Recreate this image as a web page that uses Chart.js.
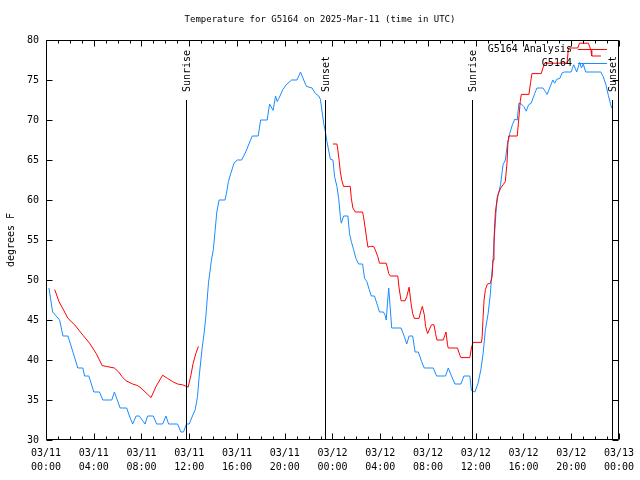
<!DOCTYPE html>
<html><head><meta charset="utf-8">
<script src="https://cdn.jsdelivr.net/npm/chart.js@4/dist/chart.umd.min.js"></script>
<style>html,body{margin:0;padding:0;background:#fff}#wrap{width:640px;height:480px}</style>
</head><body><div id="wrap"><canvas id="c" width="640" height="480"></canvas></div>
<script>
const titleText = 'Temperature for G5164 on 2025-Mar-11 (time in UTC)';
const yAxisLabel = 'degrees F';
const seriesNames = ['G5164 Analysis', 'G5164'];
const monthLabel = '03';
const firstDay = 11;
const xTickHours = [0, 4, 8, 12, 16, 20, 24, 28, 32, 36, 40, 44, 48];
const yTickValues = [30, 35, 40, 45, 50, 55, 60, 65, 70, 75, 80];

const obsHours = [0.25,0.45,0.56,1.14,1.42,1.84,2.67,3.09,3.23,3.59,4.01,4.48,4.76,5.51,5.73,6.21,6.76,6.99,7.26,7.55,
7.82,8.30,8.51,8.99,9.27,9.77,10.05,10.27,11.02,11.30,11.52,11.77,12.0,12.27,12.50,12.69,12.83,13.06,13.25,13.39,
13.61,13.86,14.02,14.17,14.31,14.5,15.0,15.14,15.28,15.48,15.75,16.03,16.39,16.73,17.0,17.28,17.78,17.98,18.53,18.73,
19.03,19.23,19.37,19.51,19.84,20.12,20.57,21.03,21.32,21.59,21.82,22.29,22.57,22.85,22.99,23.26,23.41,23.54,23.82,24.04,
24.18,24.37,24.52,24.66,24.74,24.93,25.29,25.43,25.58,25.77,25.96,26.19,26.52,26.69,26.88,27.08,27.25,27.52,27.71,27.94,
28.27,28.41,28.50,28.61,28.71,28.83,28.96,29.75,30.03,30.22,30.42,30.72,30.92,31.19,31.47,31.69,32.45,32.72,33.47,33.70,
33.97,34.26,34.76,35.01,35.51,35.64,35.93,36.20,36.43,36.62,36.81,37.04,37.23,37.31,37.45,37.60,37.73,37.87,38.08,38.29,
38.48,38.65,38.85,39.07,39.27,39.48,39.62,39.82,40.02,40.23,40.43,40.65,40.94,41.13,41.63,41.82,41.99,42.19,42.46,42.61,
42.80,43.05,43.24,43.44,43.99,44.21,44.46,44.71,44.86,45.01,45.21,46.49,46.69,46.91,47.11,47.28,47.39];
const obsTemps = [49,47,46,45,43,43,39,39,38,38,36,36,35,35,36,34,34,33,32,33,
33,32,33,33,32,32,33,32,32,31,31,32,32,33,33.8,35.4,37.9,41.2,43.4,45.4,
49.6,52.5,53.8,56.2,58.5,60,60,61,62.3,63.3,64.6,65,65,66,67,68,68,70,70,72,
71.2,73,72.3,72.7,73.8,74.4,75,75,76,75,74.2,74,73.3,73,72.6,69.6,68.5,67.3,65.1,65,
62.9,61.7,60.2,57.9,57.1,58,58,55.8,54.8,53.8,52.7,52,52,50.2,49.8,48.8,48,48,47.1,46,
46,45.6,45,47.1,49,46.7,44,44,42.9,42,43,43,41,41,39.8,39,39,38,38,39,
38,37,37,38,38,36.2,36,37.1,38.8,40.8,43.8,45.8,48.3,50,52.5,56.2,59.2,60.6,61.9,64.4,
65,66.9,68.3,69.4,70.1,70,72.1,72,71.7,71.1,71.9,72.1,73.3,74,74,73.6,73.2,74,75,74.6,
75.1,75.2,75.9,76,76,76.9,76,77.2,76.5,77,76,76,75.4,74.4,73.1,72.1,71.5];

const anaHours = [0.73,1.09,1.56,1.84,2.40,3.09,3.65,4.21,4.71,5.04,5.73,6.09,6.38,6.71,7.26,7.68,7.96,8.38,8.80,9.22,
9.77,10.18,10.60,11.02,11.44,11.77,11.91,12.14,12.33,12.55,12.77,18,24.04,24.37,24.43,24.57,24.66,24.79,24.93,25.49,
25.58,25.71,25.91,26.52,26.60,26.74,26.88,26.97,27.16,27.44,27.58,27.80,27.94,28.50,28.61,28.71,28.85,29.47,29.58,29.75,
30.08,30.22,30.42,30.58,30.72,30.86,31.25,31.42,31.53,31.70,31.80,31.97,32.17,32.30,32.50,32.64,32.75,33.28,33.42,33.51,
33.64,33.70,34.47,34.67,34.76,35.51,35.64,35.78,36.48,36.54,36.62,36.70,36.81,36.98,37.23,37.37,37.45,37.53,37.64,37.81,
37.95,38.09,38.29,38.48,38.62,38.71,38.76,39.48,39.60,39.73,39.82,40.46,40.60,40.71,41.49,41.63,41.77,43.65,43.77,44.55,
44.69,45.44,45.66,45.72,46.49];
const anaTemps = [48.8,47.3,46.0,45.2,44.4,43.1,42.1,40.8,39.3,39.2,39.0,38.5,37.9,37.4,37.0,36.8,36.5,35.9,35.3,36.7,
38.1,37.7,37.3,37.0,36.9,36.7,36.6,38.1,39.6,40.8,41.7,null,67,67,66.5,64.8,63.5,62.4,61.7,61.7,
60.2,59,58.5,58.5,57.9,56.5,55,54.1,54.2,54.2,53.8,52.9,52.1,52.1,51.5,50.8,50.5,50.5,49,47.4,
47.4,47.9,49.1,47.1,45.8,45.2,45.2,46.2,46.7,45.6,44.2,43.3,44,44.4,44.4,43.3,42.5,42.5,43.1,43.5,
41.9,41.5,41.5,40.6,40.3,40.3,41.5,42.2,42.2,42.9,45.4,47.5,48.8,49.5,49.6,50.4,52.5,55,58.3,60.4,
61,61.5,61.9,62.3,64.6,67.5,68,68,70,72.3,73.2,73.2,74.7,75.8,75.8,76.5,77.1,77.1,79,79,
79.6,79.6,78.7,78,78];

const eventHours = [11.77, 23.37, 35.73, 47.4];
const eventLabels = ['Sunrise', 'Sunset', 'Sunrise', 'Sunset'];
const eventTopValue = 72.5;

const FONT = '"DejaVu Sans Mono", "Liberation Mono", monospace';
const RED = '#ff0000';
const BLUE = '#1a8cff';

function pts(xs, ys) { return xs.map((x, i) => ({ x: x, y: ys[i] })); }
function pad2(n) { return (n < 10 ? '0' : '') + n; }

const decor = {
  id: 'decor',
  afterDatasetsDraw(chart) {
    const ctx = chart.ctx, a = chart.chartArea, xs = chart.scales.x, ys = chart.scales.y;
    const L = Math.round(a.left) + 0.5, R = Math.round(a.right) - 0.5;
    const T = Math.round(a.top) + 0.5, B = Math.round(a.bottom) - 0.5;
    ctx.save();
    ctx.strokeStyle = '#000'; ctx.lineWidth = 1;
    // sunrise / sunset lines
    eventHours.forEach((h, i) => {
      const px = Math.round(xs.getPixelForValue(h)) + 0.5;
      const top = Math.round(ys.getPixelForValue(eventTopValue));
      ctx.beginPath(); ctx.moveTo(px, top); ctx.lineTo(px, B); ctx.stroke();
      ctx.save();
      ctx.translate(px + 1, top - 8);
      ctx.rotate(-Math.PI / 2);
      ctx.fillStyle = '#000'; ctx.font = '10px ' + FONT;
      ctx.textAlign = 'left'; ctx.textBaseline = 'middle';
      ctx.fillText(eventLabels[i], 0, 0);
      ctx.restore();
    });
    // frame
    ctx.beginPath(); ctx.rect(L, T, R - L, B - T); ctx.stroke();
    // x ticks (inward, top and bottom)
    ctx.beginPath();
    for (let h = 0; h <= 48; h++) {
      const px = Math.round(xs.getPixelForValue(h)) + 0.5;
      const len = (h % 4 === 0) ? 6 : 3;
      ctx.moveTo(px, B); ctx.lineTo(px, B - len);
      ctx.moveTo(px, T); ctx.lineTo(px, T + len);
    }
    yTickValues.forEach(v => {
      const py = Math.round(ys.getPixelForValue(v)) + 0.5;
      ctx.moveTo(L, py); ctx.lineTo(L + 6, py);
      ctx.moveTo(R, py); ctx.lineTo(R - 6, py);
    });
    ctx.stroke();
    // legend
    ctx.font = '10px ' + FONT; ctx.textAlign = 'right'; ctx.textBaseline = 'middle';
    ctx.fillStyle = '#000';
    const lx0 = a.right - 41, lx1 = a.right - 12;
    [[seriesNames[0], RED, a.top + 9], [seriesNames[1], BLUE, a.top + 23]].forEach(([t, c, y]) => {
      ctx.fillText(t, a.right - 47, y);
      ctx.strokeStyle = c; ctx.beginPath();
      ctx.moveTo(lx0, Math.round(y) + 0.5); ctx.lineTo(lx1, Math.round(y) + 0.5); ctx.stroke();
    });
    // title
    ctx.fillStyle = '#000'; ctx.textAlign = 'center';
    ctx.font = '9px ' + FONT;
    ctx.fillText(titleText, 320, 20);
    // y axis label
    ctx.save();
    ctx.translate(11, (a.top + a.bottom) / 2);
    ctx.rotate(-Math.PI / 2);
    ctx.font = '10px ' + FONT; ctx.textAlign = 'center'; ctx.textBaseline = 'middle';
    ctx.fillText(yAxisLabel, 0, 0);
    ctx.restore();
    ctx.restore();
  }
};

new Chart(document.getElementById('c'), {
  type: 'line',
  data: {
    datasets: [
      { label: seriesNames[0], data: pts(anaHours, anaTemps), borderColor: RED, borderWidth: 1, pointRadius: 0, spanGaps: false, tension: 0 },
      { label: seriesNames[1], data: pts(obsHours, obsTemps), borderColor: BLUE, borderWidth: 1, pointRadius: 0, tension: 0 }
    ]
  },
  options: {
    responsive: false, animation: false, devicePixelRatio: 1,
    layout: { padding: { top: 40, right: 19, left: 0, bottom: 0 } },
    plugins: { legend: { display: false }, title: { display: false }, tooltip: { enabled: false } },
    scales: {
      x: {
        type: 'linear', min: 0, max: 48,
        afterFit: s => { s.height = 40; },
        afterBuildTicks: s => { s.ticks = xTickHours.map(v => ({ value: v })); },
        grid: { display: true, drawOnChartArea: false, drawTicks: false },
        border: { display: false },
        ticks: {
          padding: 6, color: '#000', maxRotation: 0, autoSkip: false,
          font: { family: FONT, size: 10, lineHeight: 1.4 },
          callback: v => [monthLabel + '/' + pad2(firstDay + Math.floor(v / 24)), pad2(v % 24) + ':00']
        }
      },
      y: {
        min: 30, max: 80,
        afterFit: s => { s.width = 46; },
        afterBuildTicks: s => { s.ticks = yTickValues.map(v => ({ value: v })); },
        grid: { display: true, drawOnChartArea: false, drawTicks: false },
        border: { display: false },
        ticks: { padding: 7, color: '#000', font: { family: FONT, size: 10 } }
      }
    }
  },
  plugins: [decor]
});
</script></body></html>
